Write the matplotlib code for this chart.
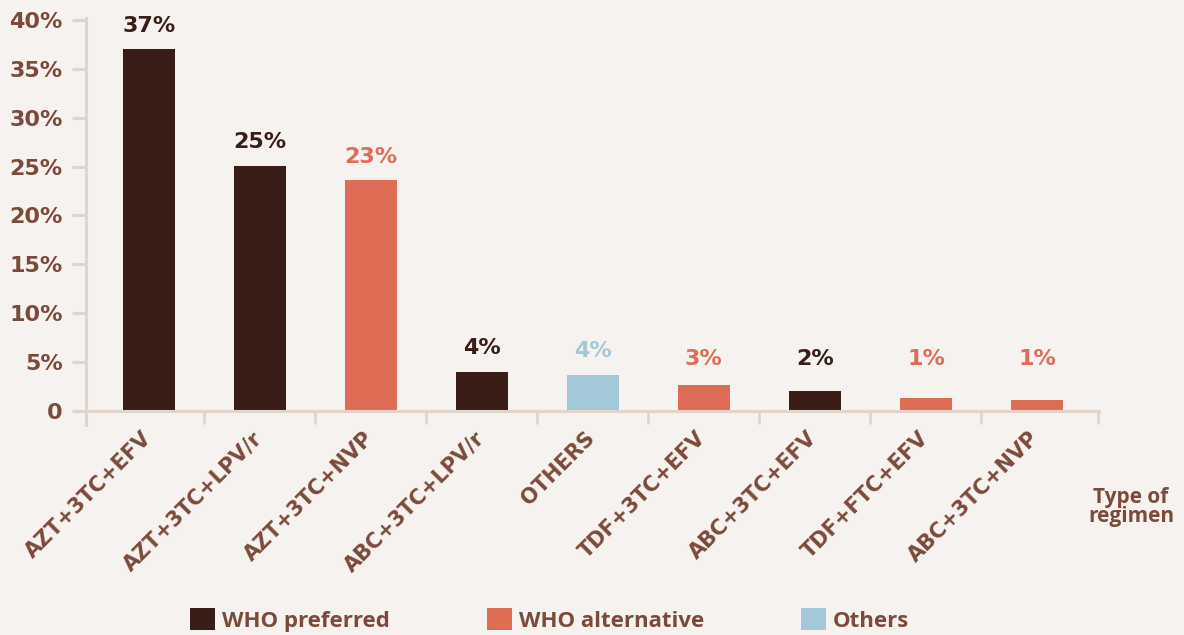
import matplotlib
matplotlib.use('Agg')
import matplotlib.pyplot as plt
from matplotlib.patches import Patch

plt.rcParams['font.family'] = ['DejaVu Sans']

# data
regimens = ['AZT+3TC+EFV', 'AZT+3TC+LPV/r', 'AZT+3TC+NVP', 'ABC+3TC+LPV/r', 'OTHERS',
            'TDF+3TC+EFV', 'ABC+3TC+EFV', 'TDF+FTC+EFV', 'ABC+3TC+NVP']
shares = [37.0, 25.05, 23.6, 4.0, 3.7, 2.66, 2.05, 1.33, 1.12]
shown = ['37%', '25%', '23%', '4%', '4%', '3%', '2%', '1%', '1%']
groups = ['pref', 'pref', 'alt', 'pref', 'other', 'alt', 'pref', 'alt', 'alt']
yticks = [0, 5, 10, 15, 20, 25, 30, 35, 40]
ytick_labels = ['0', '5%', '10%', '15%', '20%', '25%', '30%', '35%', '40%']
legend_names = {'pref': 'WHO preferred', 'alt': 'WHO alternative', 'other': 'Others'}

colors = {'pref': '#3a1d17', 'alt': '#df6d56', 'other': '#a3c8d8'}
text_col = '#7b4a3b'
line_col = '#e0d4cb'
bg = '#f6f2ef'

fig = plt.figure(figsize=(11.84, 6.35), dpi=100, facecolor=bg)
ax = fig.add_axes([0.0639, 0.3304, 0.8644, 0.6414], facecolor=bg)

x = list(range(len(regimens)))
ax.bar(x, shares, width=0.47, color=[colors[g] for g in groups], zorder=2)

ax.set_xlim(-0.66, 8.56)
ax.set_ylim(-1.45, 40.2)

for s in ['top', 'right']:
    ax.spines[s].set_visible(False)
ax.spines['left'].set_position(('data', -0.57))
ax.spines['left'].set_bounds(-1.45, 40.2)
ax.spines['bottom'].set_position(('data', 0))
ax.spines['bottom'].set_bounds(-0.66, 8.56)
for s in ['left', 'bottom']:
    ax.spines[s].set_color(line_col)
    ax.spines[s].set_linewidth(2.2)
    ax.spines[s].set_zorder(3)

ax.set_yticks(yticks)
ax.set_yticklabels(ytick_labels)
ax.tick_params(axis='y', length=10, width=2.2, color=line_col, pad=6.5,
               labelsize=16, labelcolor=text_col)
for lab in ax.get_yticklabels():
    lab.set_fontweight('bold')

# separator ticks between bars
ax.set_xticks([i + 0.5 for i in range(len(regimens) - 1)] + [8.55])
ax.set_xticklabels([])
ax.tick_params(axis='x', length=9.4, width=2, color=line_col)

# value labels above bars
for i, v in enumerate(shares):
    ax.text(i, max(v, 2.9) + 1.8, shown[i], ha='center', va='baseline',
            fontsize=16, fontweight='bold', color=colors[groups[i]])

# rotated category labels
for i, name in enumerate(regimens):
    ax.annotate(name, xy=(i, 0), xycoords='data', xytext=(-1, -24),
                textcoords='offset pixels', rotation=45, ha='right', va='center',
                rotation_mode='anchor', fontsize=15, fontweight='bold', color=text_col)

fig.text(1131 / 1184, 1 - 503 / 635, 'Type of', ha='center', va='baseline',
         fontsize=15, family='Open Sans', fontweight='bold', color=text_col)
fig.text(1131 / 1184, 1 - 522 / 635, 'regimen', ha='center', va='baseline',
         fontsize=15, family='Open Sans', fontweight='bold', color=text_col)

handles = [Patch(facecolor=colors[k], label=legend_names[k]) for k in ['pref', 'alt', 'other']]
fig.legend(handles=handles, loc='center left', bbox_to_anchor=(190 / 1184, 1 - 620 / 635),
           ncol=3, frameon=False, borderpad=0, borderaxespad=0,
           handlelength=1.13, handleheight=1.13, handletextpad=0.3, columnspacing=4.37,
           labelcolor=text_col,
           prop={'family': 'Open Sans', 'weight': 'bold', 'size': 16})

fig.savefig('out.png', dpi=100, facecolor=bg)
